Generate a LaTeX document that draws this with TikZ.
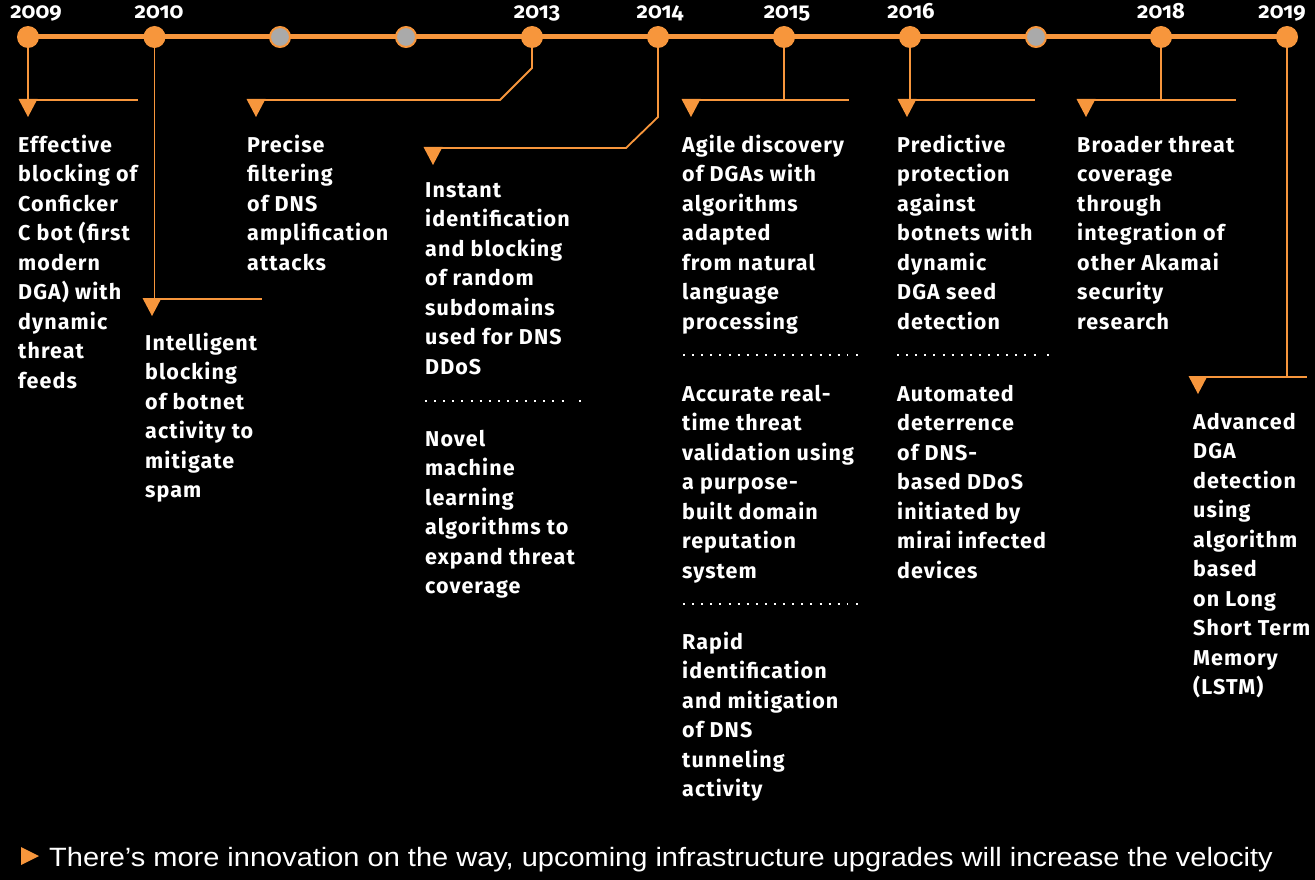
\documentclass[tikz,border=0pt]{standalone}
\usepackage{fontspec}
\usepackage{graphicx}
\newfontfamily\bodyfont{Fira Sans}[LetterSpace=5.0]
\newfontfamily\yearfont{Fira Sans}[Numbers=OldStyle]
\newfontfamily\footfont{Liberation Sans}
\definecolor{akorange}{RGB}{247,150,60}
\definecolor{akgray}{RGB}{170,170,170}
\begin{document}
\begin{tikzpicture}[x=1pt,y=-1pt,
  dotnode/.style={circle,fill=akorange,minimum size=22pt,inner sep=0pt},
  graynode/.style={circle,fill=akgray,draw=akorange,line width=2pt,minimum size=20pt,inner sep=0pt},
  conn/.style={draw=akorange,line width=1.8pt},
  yearlbl/.style={anchor=base,inner sep=0pt,text=white,font=\yearfont\bfseries\fontsize{22}{24}\selectfont},
  txt/.style={anchor=base west,inner sep=0pt,align=left,text=white,font=\bodyfont\bfseries\fontsize{21.5}{29.5}\selectfont},
  sepline/.style={draw=white,line width=2pt,dash pattern=on 2pt off 7.1pt}]
\useasboundingbox (0,0) rectangle (1315,880);
\fill[black] (0,0) rectangle (1315,880);
% timeline
\draw[akorange,line width=5pt] (28,37) -- (1287,37);
\node[dotnode] (c2009) at (28,37) {};
\node[dotnode] (c2010) at (154.5,37) {};
\node[graynode] (c2011) at (280,37) {};
\node[graynode] (c2012) at (406,37) {};
\node[dotnode] (c2013) at (532,37) {};
\node[dotnode] (c2014) at (658,37) {};
\node[dotnode] (c2015) at (784,37) {};
\node[dotnode] (c2016) at (910,37) {};
\node[graynode] (c2017) at (1036,37) {};
\node[dotnode] (c2018) at (1161,37) {};
\node[dotnode] (c2019) at (1287,37) {};
% years
\node[yearlbl] (y2009) at (36,19) {2009};
\node[yearlbl] (y2010) at (159,19) {2010};
\node[yearlbl] (y2013) at (537,19) {2013};
\node[yearlbl] (y2014) at (660,19) {2014};
\node[yearlbl] (y2015) at (787,19) {2015};
\node[yearlbl] (y2016) at (911,19) {2016};
\node[yearlbl] (y2018) at (1161,19) {2018};
\node[yearlbl] (y2019) at (1282,19) {2019};
% connector coordinates
\coordinate (a1) at (28,100);  \coordinate (a2) at (138,100);
\coordinate (b1) at (154.5,299); \coordinate (b0) at (145,299); \coordinate (b2) at (262,299);
\coordinate (d1) at (532,68); \coordinate (d2) at (500,100); \coordinate (d3) at (249,100);
\coordinate (e1) at (658,117); \coordinate (e2) at (626,148); \coordinate (e3) at (425,148);
\coordinate (f1) at (784,100); \coordinate (f0) at (684,100); \coordinate (f2) at (849,100);
\coordinate (g1) at (910,100); \coordinate (g2) at (1035,100);
\coordinate (h1) at (1161,100); \coordinate (h0) at (1078,100); \coordinate (h2) at (1236,100);
\coordinate (k1) at (1287,377); \coordinate (k0) at (1190,377); \coordinate (k2) at (1307,377);
\draw[conn] (c2009) -- (a1) -- (a2);
\draw[conn] (c2010) -- (b1); \draw[conn] (b0) -- (b2);
\draw[conn] (c2013) -- (d1) -- (d2) -- (d3);
\draw[conn] (c2014) -- (e1) -- (e2) -- (e3);
\draw[conn] (c2015) -- (f1); \draw[conn] (f0) -- (f2);
\draw[conn] (c2016) -- (g1) -- (g2);
\draw[conn] (c2018) -- (h1); \draw[conn] (h0) -- (h2);
\draw[conn] (c2019) -- (k1); \draw[conn] (k0) -- (k2);
% triangles
\foreach \tx/\ty in {28/100,152/299,256/100,433/148,691/100,907/100,1086/100,1198/377}
  \fill[akorange] (\tx-9.5,\ty-1) -- (\tx+9.5,\ty-1) -- (\tx,\ty+17) -- cycle;
% texts (anchor = baseline of last line; first baseline + (n-1)*29.5)
\node[txt] (tA) at (18,388) {Effective\\blocking of\\Conficker\\C bot (first\\modern\\DGA) with\\dynamic\\threat\\feeds};
\node[txt] (tB) at (145,497.5) {Intelligent\\blocking\\of botnet\\activity to\\mitigate\\spam};
\node[txt] (tC) at (247,270) {Precise\\filtering\\of DNS\\amplification\\attacks};
\node[txt] (tD1) at (425,374) {Instant\\identification\\and blocking\\of random\\subdomains\\used for DNS\\DDoS};
\node[txt] (tD2) at (425,593.5) {Novel\\machine\\learning\\algorithms to\\expand threat\\coverage};
\node[txt] (tE1) at (682,329) {Agile discovery\\of DGAs with\\algorithms\\adapted\\from natural\\language\\processing};
\node[txt] (tE2) at (682,578) {Accurate real-\\time threat\\validation using\\a purpose-\\built domain\\reputation\\system};
\node[txt] (tE3) at (682,796.5) {Rapid\\identification\\and mitigation\\of DNS\\tunneling\\activity};
\node[txt] (tF1) at (897,329) {Predictive\\protection\\against\\botnets with\\dynamic\\DGA seed\\detection};
\node[txt] (tF2) at (897,578) {Automated\\deterrence\\of DNS-\\based DDoS\\initiated by\\mirai infected\\devices};
\node[txt] (tG) at (1077,329) {Broader threat\\coverage\\through\\integration of\\other Akamai\\security\\research};
\node[txt] (tH) at (1193,694.5) {Advanced\\DGA\\detection\\using\\algorithm\\based\\on Long\\Short Term\\Memory\\(LSTM)};
% dotted separators
\foreach \xa/\xb/\yy in {425/580/401,683/857/355,683/857/604,897/1048/355}{
  \draw[sepline] (\xa,\yy) -- (\xb-10,\yy);
  \fill[white] (\xb-1,\yy-1) rectangle (\xb+1,\yy+1);
}
% footer
\fill[akorange] (21,847) -- (21,865) -- (39,856) -- cycle;
\node[anchor=base west,inner sep=0pt,text=white,font=\footfont\fontsize{26.5}{30}\selectfont] (foot) at (49,866) {\scalebox{1.094}[1]{There’s more innovation on the way, upcoming infrastructure upgrades will increase the velocity}};
\end{tikzpicture}
\end{document}
